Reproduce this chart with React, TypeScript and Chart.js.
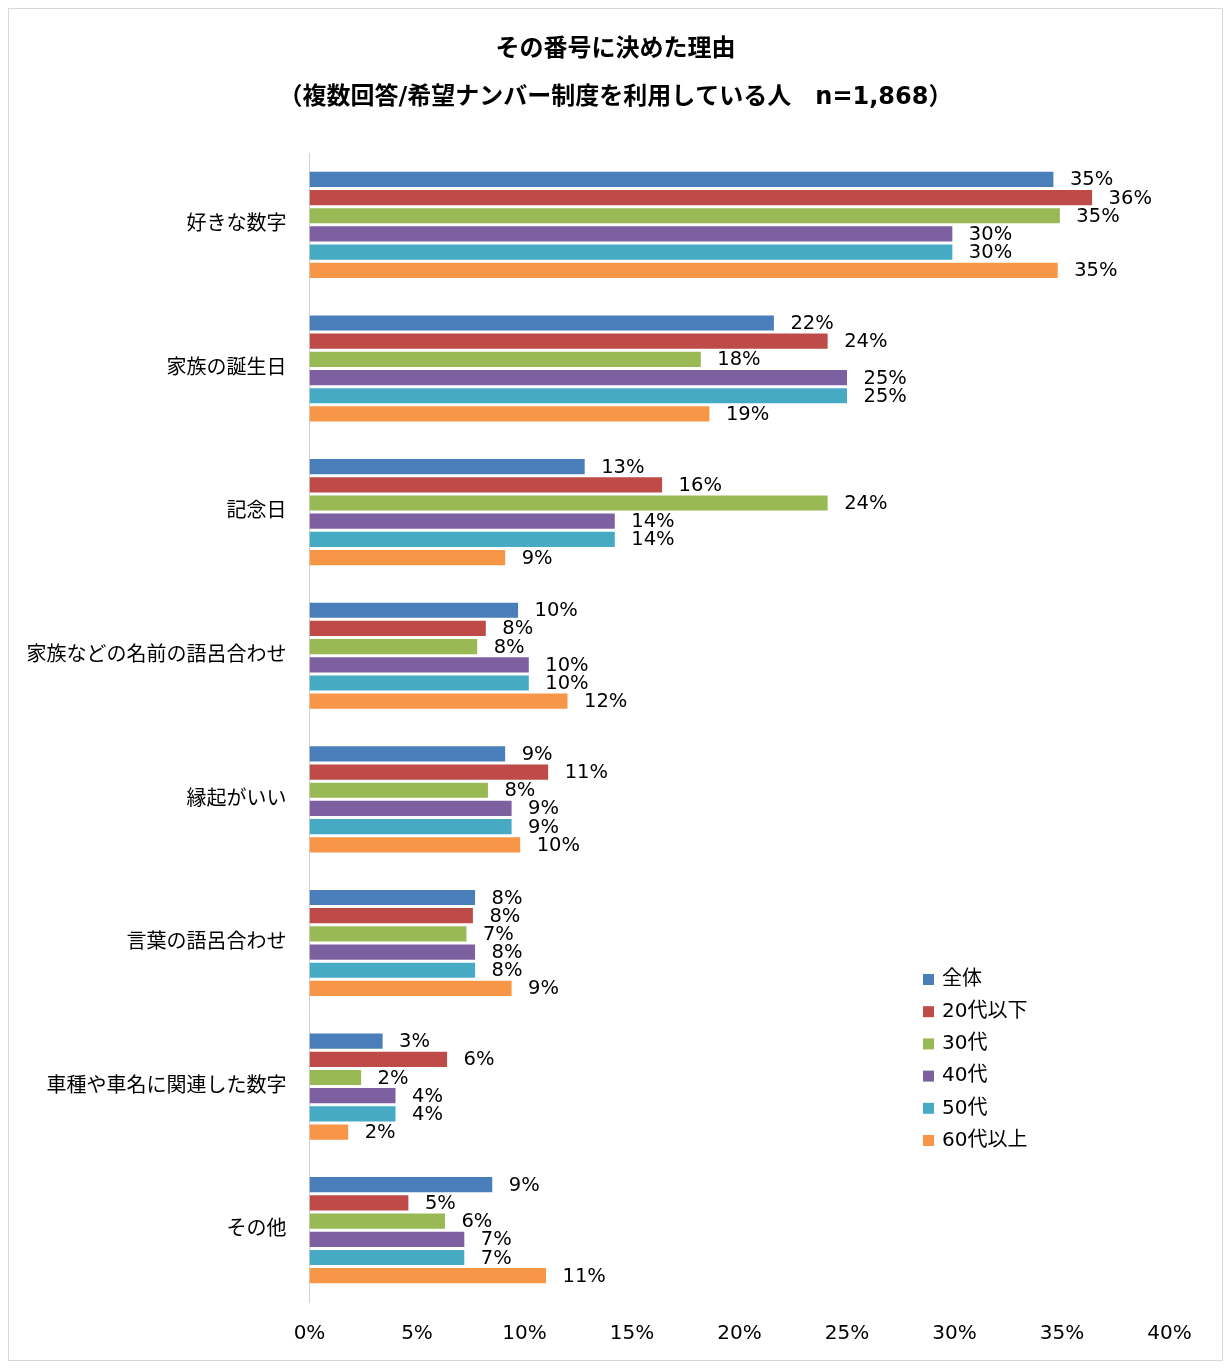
import React, { useEffect, useRef } from "react";
import { Chart, registerables } from "chart.js";

Chart.register(...registerables);

const TITLE_LINES = [
  "その番号に決めた理由",
  "（複数回答/希望ナンバー制度を利用している人　n=1,868）",
];

const CATEGORIES = [
  "好きな数字",
  "家族の誕生日",
  "記念日",
  "家族などの名前の語呂合わせ",
  "縁起がいい",
  "言葉の語呂合わせ",
  "車種や車名に関連した数字",
  "その他",
];

const SERIES_NAMES = ["全体", "20代以下", "30代", "40代", "50代", "60代以上"];
const SERIES_COLORS = ["#4A7EBB", "#BE4B48", "#98B954", "#7D60A0", "#46AAC5", "#F79646"];

const ALL = [34.6, 21.6, 12.8, 9.7, 9.1, 7.7, 3.4, 8.5];
const AGE_20 = [36.4, 24.1, 16.4, 8.2, 11.1, 7.6, 6.4, 4.6];
const AGE_30 = [34.9, 18.2, 24.1, 7.8, 8.3, 7.3, 2.4, 6.3];
const AGE_40 = [29.9, 25.0, 14.2, 10.2, 9.4, 7.7, 4.0, 7.2];
const AGE_50 = [29.9, 25.0, 14.2, 10.2, 9.4, 7.7, 4.0, 7.2];
const AGE_60 = [34.8, 18.6, 9.1, 12.0, 9.8, 9.4, 1.8, 11.0];

const SERIES_VALUES = [ALL, AGE_20, AGE_30, AGE_40, AGE_50, AGE_60];

const X_MIN = 0;
const X_MAX = 40;
const X_STEP = 5;

const FONT = "'DejaVu Sans', 'Noto Sans CJK JP', sans-serif";

const dataLabelPlugin = {
  id: "dataLabels",
  afterDatasetsDraw(chart: any) {
    const ctx = chart.ctx;
    ctx.save();
    ctx.font = `19.5px ${FONT}`;
    ctx.fillStyle = "#000";
    ctx.textAlign = "left";
    ctx.textBaseline = "middle";
    chart.data.datasets.forEach((ds: any, di: number) => {
      const meta = chart.getDatasetMeta(di);
      meta.data.forEach((el: any, i: number) => {
        const v = ds.data[i];
        ctx.fillText(`${Math.round(v)}%`, el.x + 16.5, el.y + 1);
      });
    });
    ctx.restore();
  },
};

const customLegendPlugin = {
  id: "customLegend",
  afterDraw(chart: any) {
    const ctx = chart.ctx;
    const x0 = 914;
    const y0 = 965;
    const step = 32.2;
    ctx.save();
    ctx.font = `20px ${FONT}`;
    ctx.textAlign = "left";
    ctx.textBaseline = "middle";
    chart.data.datasets.forEach((ds: any, i: number) => {
      const y = y0 + i * step;
      ctx.fillStyle = ds.backgroundColor;
      ctx.fillRect(x0, y, 11, 11);
      ctx.fillStyle = "#000";
      ctx.fillText(ds.label, x0 + 19, y + 5.5);
    });
    ctx.restore();
  },
};

function ChartView() {
  const ref = useRef<HTMLCanvasElement | null>(null);

  useEffect(() => {
    if (!ref.current) return;
    Chart.defaults.font.family = FONT;
    const chart = new Chart(ref.current, {
      type: "bar",
      data: {
        labels: CATEGORIES,
        datasets: SERIES_NAMES.map((name, i) => ({
          label: name,
          data: SERIES_VALUES[i],
          backgroundColor: SERIES_COLORS[i],
          borderWidth: 0,
          categoryPercentage: 0.76,
          barPercentage: 0.835,
        })),
      },
      options: {
        indexAxis: "y",
        animation: false,
        responsive: false,
        devicePixelRatio: 1,
        layout: { padding: { left: 0, right: 0, top: 0, bottom: 0 } },
        scales: {
          x: {
            type: "linear",
            min: X_MIN,
            max: X_MAX,
            grid: { display: false, drawTicks: false },
            border: { display: false },
            ticks: {
              stepSize: X_STEP,
              padding: 20,
              color: "#000",
              font: { size: 20, family: FONT },
              callback: (v: any) => `${v}%`,
            },
            afterFit: (s: any) => {
              s.height = 58;
            },
          },
          y: {
            type: "category",
            grid: { display: false, drawTicks: false },
            border: { display: true, color: "#d0d0d0", width: 1 },
            ticks: {
              padding: 23,
              color: "#000",
              font: { size: 20, family: FONT },
            },
            afterFit: (s: any) => {
              s.width = 300.5;
            },
          },
          yRight: {
            type: "category",
            position: "right",
            display: true,
            grid: { display: false, drawTicks: false },
            border: { display: false },
            ticks: { display: false },
            afterFit: (s: any) => {
              s.width = 52.5;
            },
          },
        },
        plugins: {
          legend: { display: false },
          tooltip: { enabled: false },
          title: {
            display: true,
            text: TITLE_LINES,
            color: "#000",
            font: { size: 24, weight: "bold", family: FONT, lineHeight: 1.98 },
            padding: { top: 17, bottom: 32 },
          },
        },
      },
      plugins: [dataLabelPlugin, customLegendPlugin],
    } as any);
    return () => chart.destroy();
  }, []);

  return (
    <div
      style={{
        width: 1215,
        height: 1353,
        border: "1px solid #d9d9d9",
        boxSizing: "border-box",
        background: "#fff",
      }}
    >
      <canvas ref={ref} width={1213} height={1351} style={{ display: "block" }} />
    </div>
  );
}

export default function App() {
  return <ChartView />;
}
